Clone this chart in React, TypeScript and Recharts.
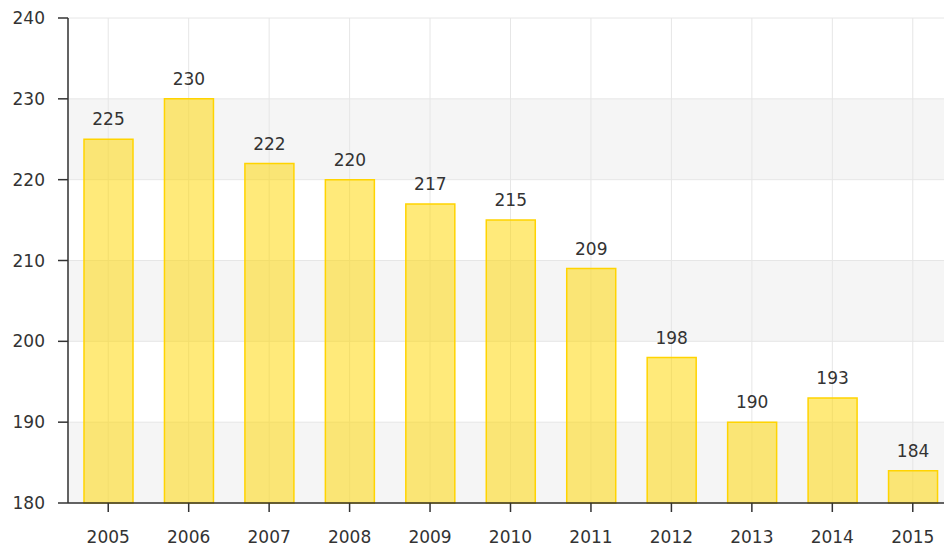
import { BarChart, Bar, XAxis, YAxis, CartesianGrid, LabelList } from 'recharts';

const years = ['2005', '2006', '2007', '2008', '2009', '2010', '2011', '2012', '2013', '2014', '2015'];
const values = [225, 230, 222, 220, 217, 215, 209, 198, 190, 193, 184];
const yTicks = [180, 190, 200, 210, 220, 230, 240];

const data = years.map((year, i) => ({ year, value: values[i] }));

const FONT = 'DejaVu Sans, Verdana, sans-serif';
const tickStyle = { fontSize: 17, fill: '#333333', fontFamily: FONT };

export default function App() {
  return (
    <div style={{ position: 'fixed', left: 0, top: 0, width: 944, height: 549, overflow: 'hidden', background: '#ffffff' }}>
      <BarChart
        width={960}
        height={549}
        data={data}
        margin={{ top: 18, right: 7, left: 0, bottom: 6 }}
        barSize={49}
      >
        <CartesianGrid
          stroke="#e6e6e6"
          horizontalFill={['#ffffff', '#f5f5f5']}
          fillOpacity={1}
        />
        <XAxis
          dataKey="year"
          height={40}
          tick={tickStyle}
          tickSize={9}
          tickMargin={19}
          axisLine={{ stroke: '#333333', strokeWidth: 1.5 }}
          tickLine={{ stroke: '#333333', strokeWidth: 1.5 }}
        />
        <YAxis
          width={68}
          domain={[180, 240]}
          ticks={yTicks}
          interval={0}
          tick={tickStyle}
          tickSize={10}
          tickMargin={13}
          axisLine={{ stroke: '#333333', strokeWidth: 1.5 }}
          tickLine={{ stroke: '#333333', strokeWidth: 1.5 }}
        />
        <Bar
          dataKey="value"
          fill="#FFD700"
          fillOpacity={0.52}
          stroke="#FFD400"
          strokeWidth={1.5}
          isAnimationActive={false}
        >
          <LabelList dataKey="value" position="top" offset={14} style={{ fontSize: 17, fill: '#333333', fontFamily: FONT }} />
        </Bar>
      </BarChart>
    </div>
  );
}
